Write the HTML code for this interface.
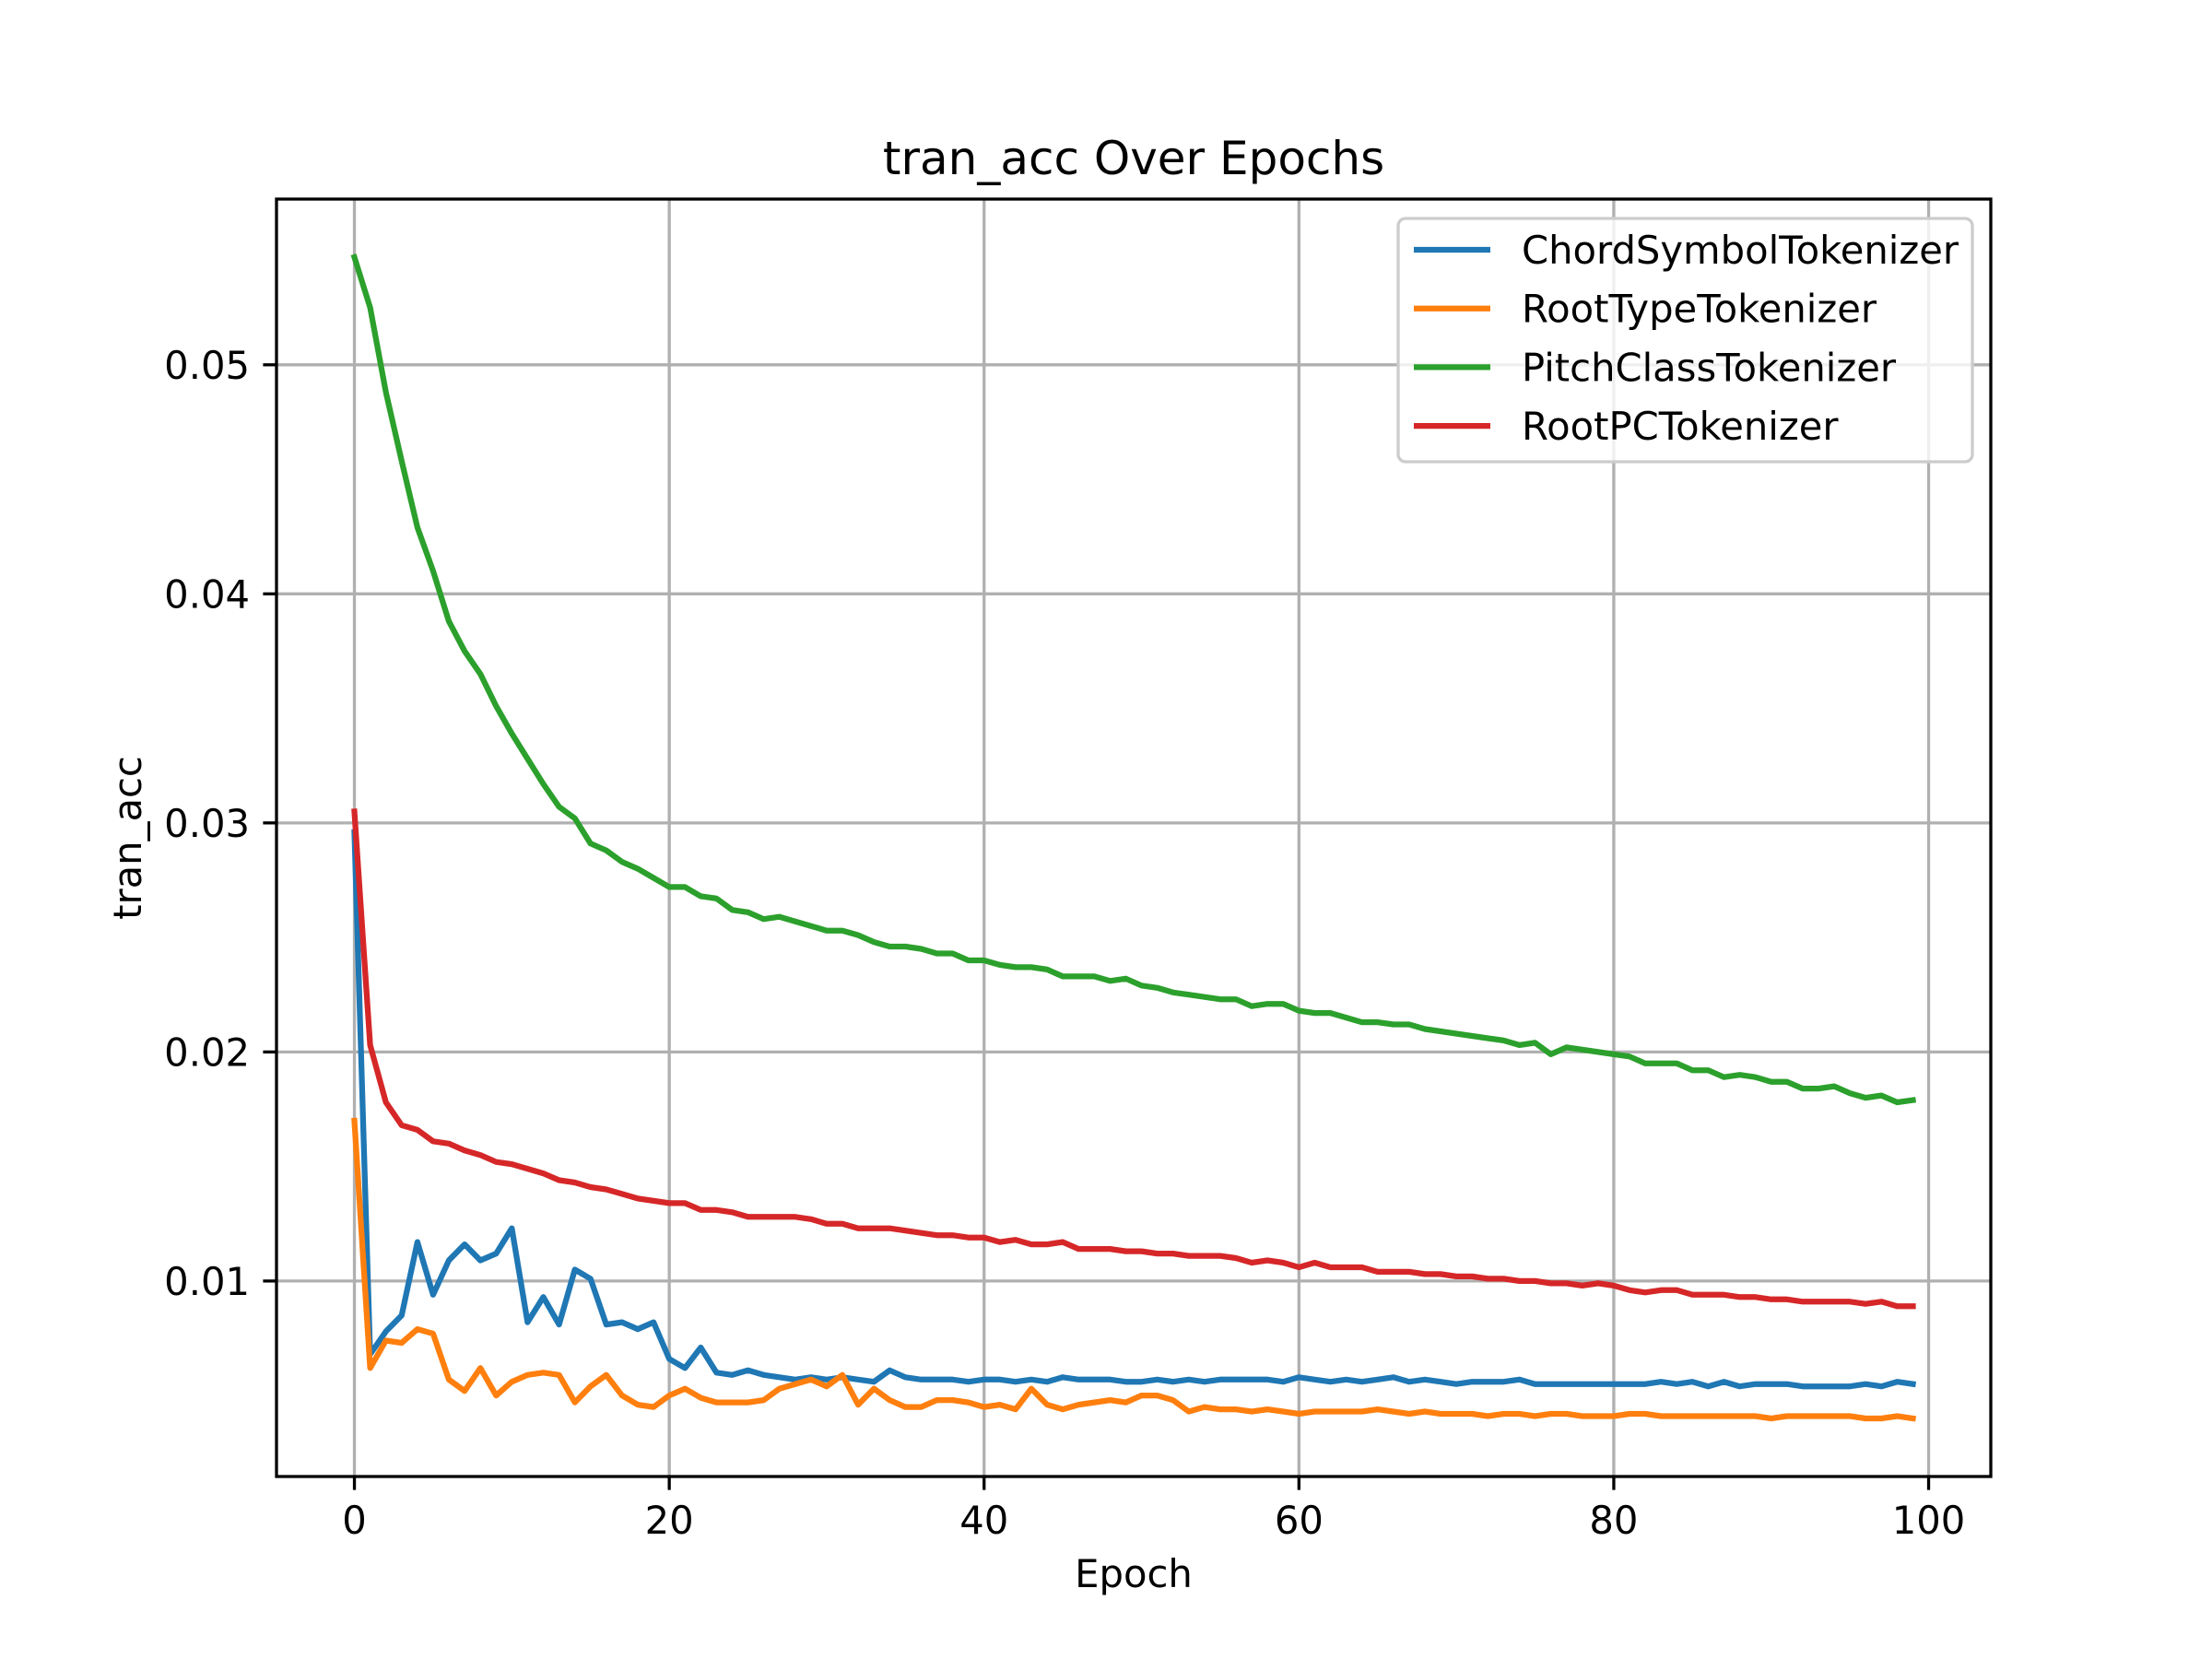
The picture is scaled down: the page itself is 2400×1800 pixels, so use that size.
<!DOCTYPE html>
<html><head><meta charset="utf-8"><style>
html,body{margin:0;padding:0;background:#fff;}
svg{display:block;font-family:"DejaVu Sans","Liberation Sans",sans-serif;}
</style></head><body>
<svg id="chart" width="2400" height="1800" viewBox="0 0 2400 1800" xmlns="http://www.w3.org/2000/svg">
<rect x="0" y="0" width="2400" height="1800" fill="#fff"/>
<g id="grid"></g>
<g id="series"></g>
<rect x="300" y="216" width="1860" height="1386" fill="none" stroke="#000" stroke-width="3.3"/>
<g id="ticks"></g>
<text x="1230" y="189" font-size="50" text-anchor="middle">tran_acc Over Epochs</text>
<text x="1230" y="1722" font-size="41.7" text-anchor="middle">Epoch</text>
<text x="0" y="0" font-size="41.7" text-anchor="middle" transform="translate(153,909) rotate(-90)">tran_acc</text>
<g id="legend"></g>
</svg>
<script>
const seriesNames = ["ChordSymbolTokenizer","RootTypeTokenizer","PitchClassTokenizer","RootPCTokenizer"];
const seriesColors = ["#1f77b4","#ff7f0e","#2ca02c","#d62728"];
const chordSymbol = [0.0296,0.0068,0.0078,0.0085,0.0117,0.0094,0.0109,0.0116,0.0109,0.0112,0.0123,0.0082,0.0093,0.0081,0.0105,0.0101,0.0081,0.0082,0.0079,0.0082,0.0066,0.0062,0.0071,0.0060,0.0059,0.0061,0.0059,0.0058,0.0057,0.0058,0.0057,0.0058,0.0057,0.0056,0.0061,0.0058,0.0057,0.0057,0.0057,0.0056,0.0057,0.0057,0.0056,0.0057,0.0056,0.0058,0.0057,0.0057,0.0057,0.0056,0.0056,0.0057,0.0056,0.0057,0.0056,0.0057,0.0057,0.0057,0.0057,0.0056,0.0058,0.0057,0.0056,0.0057,0.0056,0.0057,0.0058,0.0056,0.0057,0.0056,0.0055,0.0056,0.0056,0.0056,0.0057,0.0055,0.0055,0.0055,0.0055,0.0055,0.0055,0.0055,0.0055,0.0056,0.0055,0.0056,0.0054,0.0056,0.0054,0.0055,0.0055,0.0055,0.0054,0.0054,0.0054,0.0054,0.0055,0.0054,0.0056,0.0055];
const rootType = [0.0170,0.0062,0.0074,0.0073,0.0079,0.0077,0.0057,0.0052,0.0062,0.0050,0.0056,0.0059,0.0060,0.0059,0.0047,0.0054,0.0059,0.0050,0.0046,0.0045,0.0050,0.0053,0.0049,0.0047,0.0047,0.0047,0.0048,0.0053,0.0055,0.0057,0.0054,0.0059,0.0046,0.0053,0.0048,0.0045,0.0045,0.0048,0.0048,0.0047,0.0045,0.0046,0.0044,0.0053,0.0046,0.0044,0.0046,0.0047,0.0048,0.0047,0.0050,0.0050,0.0048,0.0043,0.0045,0.0044,0.0044,0.0043,0.0044,0.0043,0.0042,0.0043,0.0043,0.0043,0.0043,0.0044,0.0043,0.0042,0.0043,0.0042,0.0042,0.0042,0.0041,0.0042,0.0042,0.0041,0.0042,0.0042,0.0041,0.0041,0.0041,0.0042,0.0042,0.0041,0.0041,0.0041,0.0041,0.0041,0.0041,0.0041,0.0040,0.0041,0.0041,0.0041,0.0041,0.0041,0.0040,0.0040,0.0041,0.0040];
const pitchClass = [0.0547,0.0525,0.0488,0.0458,0.0429,0.0410,0.0388,0.0375,0.0365,0.0351,0.0339,0.0328,0.0317,0.0307,0.0302,0.0291,0.0288,0.0283,0.0280,0.0276,0.0272,0.0272,0.0268,0.0267,0.0262,0.0261,0.0258,0.0259,0.0257,0.0255,0.0253,0.0253,0.0251,0.0248,0.0246,0.0246,0.0245,0.0243,0.0243,0.0240,0.0240,0.0238,0.0237,0.0237,0.0236,0.0233,0.0233,0.0233,0.0231,0.0232,0.0229,0.0228,0.0226,0.0225,0.0224,0.0223,0.0223,0.0220,0.0221,0.0221,0.0218,0.0217,0.0217,0.0215,0.0213,0.0213,0.0212,0.0212,0.0210,0.0209,0.0208,0.0207,0.0206,0.0205,0.0203,0.0204,0.0199,0.0202,0.0201,0.0200,0.0199,0.0198,0.0195,0.0195,0.0195,0.0192,0.0192,0.0189,0.0190,0.0189,0.0187,0.0187,0.0184,0.0184,0.0185,0.0182,0.0180,0.0181,0.0178,0.0179];
const rootPC = [0.0305,0.0203,0.0178,0.0168,0.0166,0.0161,0.0160,0.0157,0.0155,0.0152,0.0151,0.0149,0.0147,0.0144,0.0143,0.0141,0.0140,0.0138,0.0136,0.0135,0.0134,0.0134,0.0131,0.0131,0.0130,0.0128,0.0128,0.0128,0.0128,0.0127,0.0125,0.0125,0.0123,0.0123,0.0123,0.0122,0.0121,0.0120,0.0120,0.0119,0.0119,0.0117,0.0118,0.0116,0.0116,0.0117,0.0114,0.0114,0.0114,0.0113,0.0113,0.0112,0.0112,0.0111,0.0111,0.0111,0.0110,0.0108,0.0109,0.0108,0.0106,0.0108,0.0106,0.0106,0.0106,0.0104,0.0104,0.0104,0.0103,0.0103,0.0102,0.0102,0.0101,0.0101,0.0100,0.0100,0.0099,0.0099,0.0098,0.0099,0.0098,0.0096,0.0095,0.0096,0.0096,0.0094,0.0094,0.0094,0.0093,0.0093,0.0092,0.0092,0.0091,0.0091,0.0091,0.0091,0.0090,0.0091,0.0089,0.0089];
const xTicks = [0,20,40,60,80,100];
const yTicks = [0.01,0.02,0.03,0.04,0.05];
const yTickLabels = ["0.01","0.02","0.03","0.04","0.05"];

const NS = "http://www.w3.org/2000/svg";
const allSeries = [chordSymbol, rootType, pitchClass, rootPC];
const L = 300, R = 2160, T = 216, B = 1602;
const n = chordSymbol.length;
const xMin = -(n-1)*0.05, xMax = (n-1)*1.05;
let dMin = Infinity, dMax = -Infinity;
allSeries.forEach(s => s.forEach(v => { dMin = Math.min(dMin, v); dMax = Math.max(dMax, v); }));
const yPad = (dMax - dMin) * 0.05;
const yMin = dMin - yPad, yMax = dMax + yPad;
function xs(v){ return L + (v - xMin) / (xMax - xMin) * (R - L); }
function ys(v){ return B - (v - yMin) / (yMax - yMin) * (B - T); }
function mk(tag, attrs){ const e = document.createElementNS(NS, tag); for (const k in attrs) e.setAttribute(k, attrs[k]); return e; }

const grid = document.getElementById('grid');
const ticks = document.getElementById('ticks');
xTicks.forEach(t => {
  const x = xs(t);
  const g = mk('line', {x1:x, x2:x, y1:T, y2:B, stroke:'#b0b0b0', 'stroke-width':3.3});
  
  
  grid.appendChild(g);
  const tk = mk('line', {x1:x, x2:x, y1:B, y2:B+14.6, stroke:'#000', 'stroke-width':3.3});
  
  
  ticks.appendChild(tk);
  const tx = mk('text', {x:x, y:B+62, 'font-size':41.7, 'text-anchor':'middle'});
  
  
  tx.textContent = String(t);
  ticks.appendChild(tx);
});
yTicks.forEach((t, i) => {
  const y = ys(t);
  const g = mk('line', {x1:L, x2:R, y1:y, y2:y, stroke:'#b0b0b0', 'stroke-width':3.3});
  
  
  grid.appendChild(g);
  const tk = mk('line', {x1:L-14.6, x2:L, y1:y, y2:y, stroke:'#000', 'stroke-width':3.3});
  
  
  ticks.appendChild(tk);
  const tx = mk('text', {x:L-29, y:y+15, 'font-size':41.7, 'text-anchor':'end'});
  
  
  tx.textContent = yTickLabels[i];
  ticks.appendChild(tx);
});

const sg = document.getElementById('series');
allSeries.forEach((s, k) => {
  const pts = s.map((v, i) => xs(i).toFixed(1) + ',' + ys(v).toFixed(1)).join(' ');
  const pl = mk('polyline', {points:pts, fill:'none', stroke:seriesColors[k], 'stroke-width':6.25, 'stroke-linejoin':'round', 'stroke-linecap':'square'});
  
  
  sg.appendChild(pl);
});

const lg = document.getElementById('legend');
const box = mk('rect', {x:1517, y:237, width:623, height:264, rx:8, fill:'#fff', 'fill-opacity':0.8, stroke:'#cccccc', 'stroke-width':3.3});


lg.appendChild(box);
seriesNames.forEach((nm, k) => {
  const y = 271 + k * 63.7;
  const ln = mk('line', {x1:1534, x2:1617, y1:y, y2:y, stroke:seriesColors[k], 'stroke-width':6.25});
  
  
  lg.appendChild(ln);
  const tx = mk('text', {x:1651, y:y+15, 'font-size':41.7});
  
  
  tx.textContent = nm;
  lg.appendChild(tx);
});
</script>
</body></html>
